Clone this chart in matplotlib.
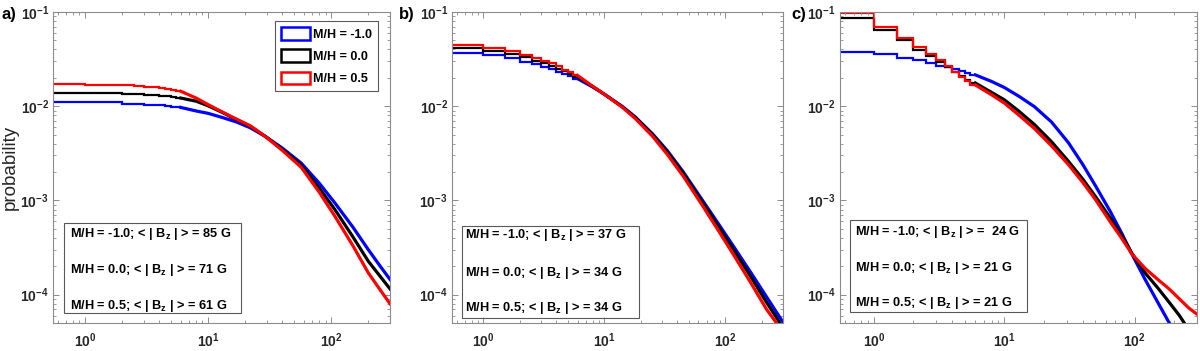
import matplotlib
matplotlib.use("Agg")
from matplotlib import pyplot as plt
from matplotlib.patches import Patch, Rectangle

plt.rcParams['font.family'] = ['Liberation Sans', 'DejaVu Sans']
plt.rcParams['mathtext.fontset'] = 'custom'
plt.rcParams['mathtext.rm'] = 'Liberation Sans'
plt.rcParams['mathtext.bf'] = 'Liberation Sans:bold'
plt.rcParams['mathtext.it'] = 'Liberation Sans:italic'

# histogram bins of 0.5 G near the origin (steps are visible there)
head_edges = [0.5, 1.0, 1.5, 2.0, 2.5, 3.0, 3.5, 4.0, 4.5, 5.0, 5.5, 6.0]

# panel a
tail_x_a = [6, 8, 10, 13, 17, 22, 29, 40, 57, 80, 107, 150, 200, 250, 300]
a_blue_head = [0.0110, 0.0110, 0.0110, 0.0106, 0.0105, 0.0104, 0.0103, 0.0102, 0.0100, 0.0099, 0.0097]
a_blue_tail = [0.0097, 0.0089, 0.0084, 0.0076, 0.0068, 0.0059, 0.0048, 0.0036, 0.00249, 0.00152,
               9.4e-4, 5.2e-4, 3.0e-4, 2.0e-4, 1.45e-4]
a_black_head = [0.0138, 0.0138, 0.0138, 0.0135, 0.0134, 0.0133, 0.0131, 0.0129, 0.0127, 0.0125, 0.0122]
a_black_tail = [0.0122, 0.0113, 0.0101, 0.0086, 0.0072, 0.0061, 0.0048, 0.0035, 0.00238, 0.00135,
                8.0e-4, 4.1e-4, 2.26e-4, 1.56e-4, 1.15e-4]
a_red_head = [0.0171, 0.0170, 0.0168, 0.0166, 0.0164, 0.0161, 0.0158, 0.0155, 0.0152, 0.0148, 0.0144]
a_red_tail = [0.0144, 0.0122, 0.0104, 0.0087, 0.0073, 0.0062, 0.0048, 0.0034, 0.00225, 0.00122,
              6.8e-4, 3.3e-4, 1.7e-4, 1.12e-4, 8.0e-5]

# panel b
tail_x_b = [6, 8, 10, 14, 18, 25, 33, 45, 62, 85, 117, 160, 219, 265, 300]
b_blue_head = [0.0365, 0.0351, 0.0323, 0.0298, 0.0279, 0.0263, 0.0247, 0.0233, 0.0220, 0.0207, 0.0196]
b_blue_tail = [0.0196, 0.0160, 0.0134, 0.0100, 0.0077, 0.0051, 0.0034, 0.0020, 0.00109, 6.0e-4,
               3.25e-4, 1.77e-4, 9.5e-5, 6.5e-5, 5.1e-5]
b_black_head = [0.0412, 0.0390, 0.0360, 0.0330, 0.0305, 0.0286, 0.0270, 0.0250, 0.0234, 0.0219, 0.0205]
b_black_tail = [0.0205, 0.0162, 0.0134, 0.0099, 0.0076, 0.0050, 0.0033, 0.00193, 0.00104, 5.65e-4,
                3.0e-4, 1.6e-4, 8.3e-5, 5.7e-5, 4.4e-5]
b_red_head = [0.0447, 0.0419, 0.0387, 0.0351, 0.0323, 0.0303, 0.0286, 0.0264, 0.0245, 0.0228, 0.0212]
b_red_tail = [0.0212, 0.0163, 0.0134, 0.0098, 0.0074, 0.0048, 0.0031, 0.00180, 9.6e-4, 5.1e-4,
              2.65e-4, 1.38e-4, 7.0e-5, 5.0e-5, 3.8e-5]

# panel c
tail_x_c = [6, 8, 10, 13, 17, 23, 31, 40, 50, 65, 80, 95, 120, 150, 181, 220, 260, 300]
c_blue_head = [0.0376, 0.0355, 0.0326, 0.0306, 0.0286, 0.0270, 0.0259, 0.0249, 0.0235, 0.0225, 0.0215]
c_blue_tail = [0.0215, 0.0183, 0.0158, 0.0127, 0.0099, 0.0068, 0.0041, 0.0024, 0.00143, 7.6e-4,
               4.4e-4, 2.7e-4, 1.45e-4, 8.3e-5, 5.2e-5, 3.4e-5, 2.5e-5, 2.0e-5]
c_black_head = [0.0870, 0.0641, 0.0501, 0.0397, 0.0338, 0.0293, 0.0259, 0.0232, 0.0210, 0.0192, 0.0176]
c_black_tail = [0.0176, 0.0140, 0.0117, 0.0088, 0.0064, 0.0042, 0.0026, 0.00168, 0.00110, 6.5e-4,
                4.2e-4, 2.75e-4, 1.7e-4, 1.18e-4, 8.5e-5, 6.0e-5, 4.2e-5, 3.2e-5]
c_red_head = [0.0966, 0.0696, 0.0534, 0.0425, 0.0360, 0.0306, 0.0264, 0.0232, 0.0205, 0.0185, 0.0168]
c_red_tail = [0.0168, 0.0132, 0.0108, 0.0080, 0.0058, 0.0038, 0.0024, 0.00155, 0.00102, 5.9e-4,
              3.9e-4, 2.7e-4, 1.9e-4, 1.45e-4, 1.17e-4, 9.0e-5, 7.2e-5, 6.2e-5]

metallicity = ["-1.0", "0.0", "0.5"]
colors = ["blue", "black", "red"]
mean_bz = [["85", "71", "61"], ["37", "34", "34"], [" 24", "21", "21"]]
panel_labels = ["a)", "b)", "c)"]

panels = [
    (tail_x_a, [a_blue_head, a_black_head, a_red_head], [a_blue_tail, a_black_tail, a_red_tail]),
    (tail_x_b, [b_blue_head, b_black_head, b_red_head], [b_blue_tail, b_black_tail, b_red_tail]),
    (tail_x_c, [c_blue_head, c_black_head, c_red_head], [c_blue_tail, c_black_tail, c_red_tail]),
]

positions = [
    [0.0442, 0.0798, 0.2808, 0.886],
    [0.3767, 0.0798, 0.2758, 0.886],
    [0.7000, 0.0798, 0.2975, 0.886],
]
# stats box: x0, y0, x1, y1, text x, row ys (axes fraction)
boxes = [
    (0.033, 0.031, 0.558, 0.3225, 0.050, [0.286, 0.170, 0.056]),
    (0.030, 0.017, 0.565, 0.313, 0.039, [0.283, 0.160, 0.047]),
    (0.028, 0.035, 0.524, 0.331, 0.042, [0.294, 0.178, 0.063]),
]
label_x = [1, 399, 791]

fig = plt.figure(figsize=(12, 3.51), dpi=100)

for p, (tail_x, heads, tails) in enumerate(panels):
    ax = fig.add_axes(positions[p])
    ax.set_xscale('log')
    ax.set_yscale('log')
    for head, tail, c in zip(heads, tails, colors):
        ax.stairs(head, head_edges, color=c, lw=1.6, baseline=None)
        ax.plot(tail_x, tail, color=c, lw=2.3)
    ax.set_xlim(0.55, 300)
    ax.set_ylim(5e-5, 0.1)

    ax.set_xticks([1, 10, 100])
    ax.set_xticklabels([r'$\mathbf{10^{0}}$', r'$\mathbf{10^{1}}$', r'$\mathbf{10^{2}}$'])
    ax.set_yticks([1e-4, 1e-3, 1e-2, 1e-1])
    ax.set_yticklabels([r'$\mathbf{10^{-4}}$', r'$\mathbf{10^{-3}}$',
                        r'$\mathbf{10^{-2}}$', r'$\mathbf{10^{-1}}$'])
    ax.tick_params(which='both', direction='in', top=True, right=True,
                   color='0.55', labelcolor='0.15', labelsize=10)
    ax.tick_params(which='major', length=4, width=0.7)
    ax.tick_params(which='minor', length=2.5, width=0.6)
    ax.tick_params(axis='x', pad=6)
    ax.tick_params(axis='y', pad=3)
    for s in ax.spines.values():
        s.set_color('0.55')
        s.set_linewidth(0.8)

    x0, y0, x1, y1, tx, rows = boxes[p]
    ax.add_patch(Rectangle((x0, y0), x1 - x0, y1 - y0, transform=ax.transAxes,
                           fill=False, edgecolor='0.35', lw=0.8, zorder=5))
    for i in range(3):
        txt = "M/H = " + metallicity[i] + "; < | $\\mathbf{B}_{\\mathbf{z}}$ | > = " + mean_bz[p][i] + " G"
        ax.text(tx, rows[i], txt, transform=ax.transAxes, fontsize=9.2,
                fontweight='bold', va='center', ha='left', zorder=6)

    if p == 0:
        ax.set_ylabel("probability", fontsize=13.5, color='0.15', labelpad=1)
        handles = [Patch(facecolor='white', edgecolor=c, linewidth=1.8) for c in colors]
        leg = ax.legend(handles, ["M/H = " + m for m in metallicity], loc='upper right',
                        bbox_to_anchor=(0.964, 0.971), borderaxespad=0, fancybox=False,
                        edgecolor='0.35', framealpha=1, handlelength=2.3, handleheight=1.15,
                        handletextpad=0.2, labelspacing=0.7, borderpad=0.5,
                        prop={'weight': 'bold', 'size': 9})
        leg.get_frame().set_linewidth(0.8)

    fig.text(label_x[p] / 1200, 1 - 14 / 351, panel_labels[p], fontsize=12,
             fontweight='bold', va='center', ha='left')

fig.savefig("out.png", dpi=100)
